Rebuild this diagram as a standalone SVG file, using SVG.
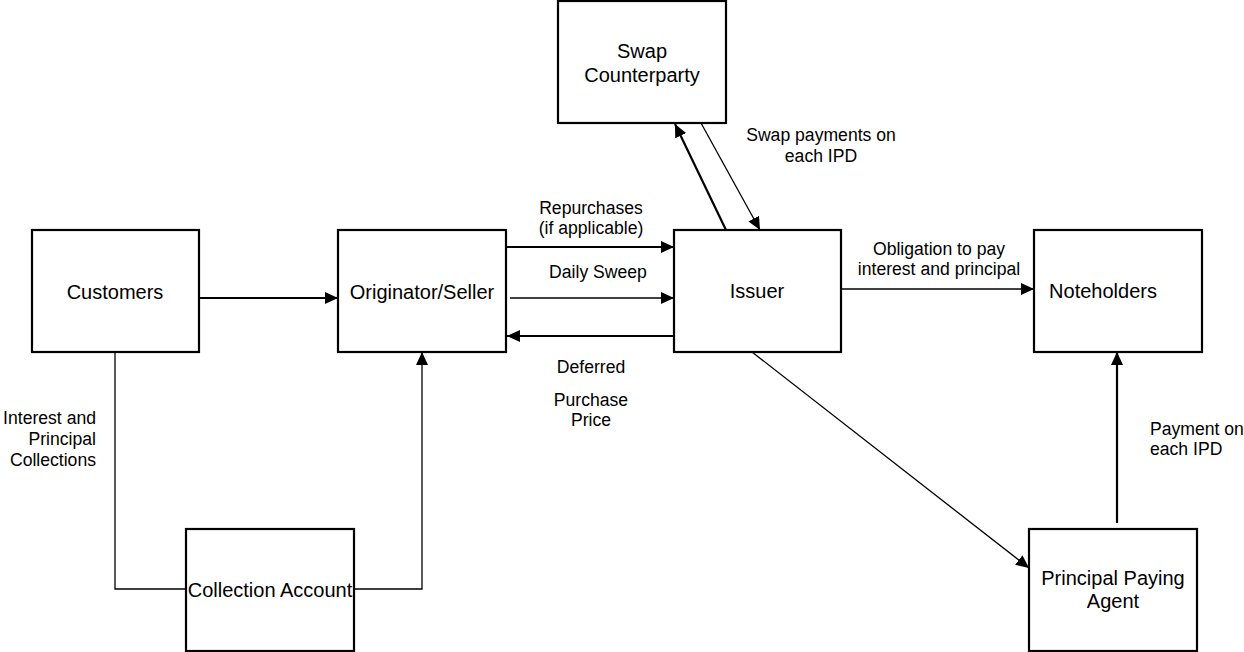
<svg xmlns="http://www.w3.org/2000/svg" width="1244" height="652" viewBox="0 0 1244 652">
<style>
.box{fill:#fff;stroke:#000;stroke-width:2.2}
.n{font-family:"Liberation Sans",Arial,sans-serif;font-size:20px;fill:#000;text-anchor:middle}
.l{font-family:"Liberation Sans",Arial,sans-serif;font-size:17.6px;fill:#000;text-anchor:middle}
.thick{stroke:#000;stroke-width:2.2;fill:none}
.thin{stroke:#000;stroke-width:1.3;fill:none}
</style>
<defs>
<marker id="ah" markerUnits="userSpaceOnUse" markerWidth="14" markerHeight="12" refX="13" refY="6" orient="auto">
<path d="M0,0 L13,6 L0,12 Z" fill="#000"/>
</marker>
</defs>
<g id="connectors">
<line class="thick" x1="199" y1="298" x2="338" y2="298" marker-end="url(#ah)"/>
<line class="thick" x1="507" y1="247" x2="674" y2="247" marker-end="url(#ah)"/>
<line class="thin" x1="510" y1="298" x2="674" y2="298" marker-end="url(#ah)"/>
<line class="thick" x1="674" y1="336" x2="507" y2="336" marker-end="url(#ah)"/>
<line class="thick" x1="726" y1="230" x2="675" y2="124" marker-end="url(#ah)"/>
<line class="thin" x1="701" y1="123" x2="760" y2="230" marker-end="url(#ah)"/>
<line class="thin" x1="841" y1="289" x2="1034" y2="289" marker-end="url(#ah)"/>
<line class="thin" x1="752" y1="352" x2="1029" y2="568" marker-end="url(#ah)"/>
<line class="thick" x1="1117" y1="523" x2="1117" y2="352" marker-end="url(#ah)"/>
<polyline class="thin" points="115,352 115,589 186,589"/>
<polyline class="thin" points="354,589 422,589 422,352" marker-end="url(#ah)"/>
</g>
<g id="labels">
<text class="l" x="591" y="214">Repurchases</text>
<text class="l" x="591" y="234">(if applicable)</text>
<text class="l" x="598" y="278">Daily Sweep</text>
<text class="l" x="591" y="373">Deferred</text>
<text class="l" x="591" y="406">Purchase</text>
<text class="l" x="591" y="426">Price</text>
<text class="l" x="821" y="141">Swap payments on</text>
<text class="l" x="821" y="162">each IPD</text>
<text class="l" x="939" y="255">Obligation to pay</text>
<text class="l" x="939" y="275">interest and principal</text>
<text class="l" x="96" y="424" style="text-anchor:end">Interest and</text>
<text class="l" x="96" y="445" style="text-anchor:end">Principal</text>
<text class="l" x="96" y="466" style="text-anchor:end">Collections</text>
<text class="l" x="1150" y="435" style="text-anchor:start">Payment on</text>
<text class="l" x="1150" y="455" style="text-anchor:start">each IPD</text>
</g>
<g id="customers"><rect class="box" x="32" y="230" width="167" height="122"/><text class="n" x="115" y="299">Customers</text></g>
<g id="originator"><rect class="box" x="338" y="230" width="168" height="122"/><text class="n" x="422" y="299">Originator/Seller</text></g>
<g id="swap"><rect class="box" x="558" y="1" width="168" height="122"/><text class="n" x="642" y="58">Swap</text><text class="n" x="642" y="82">Counterparty</text></g>
<g id="issuer"><rect class="box" x="674" y="230" width="167" height="122"/><text class="n" x="757" y="298">Issuer</text></g>
<g id="noteholders"><rect class="box" x="1034" y="230" width="168" height="122"/><text class="n" x="1103" y="298">Noteholders</text></g>
<g id="collection"><rect class="box" x="186" y="529" width="168" height="122"/><text class="n" x="270" y="597">Collection Account</text></g>
<g id="ppa"><rect class="box" x="1029" y="529" width="168" height="122"/><text class="n" x="1113" y="585">Principal Paying</text><text class="n" x="1113" y="608">Agent</text></g>
</svg>
